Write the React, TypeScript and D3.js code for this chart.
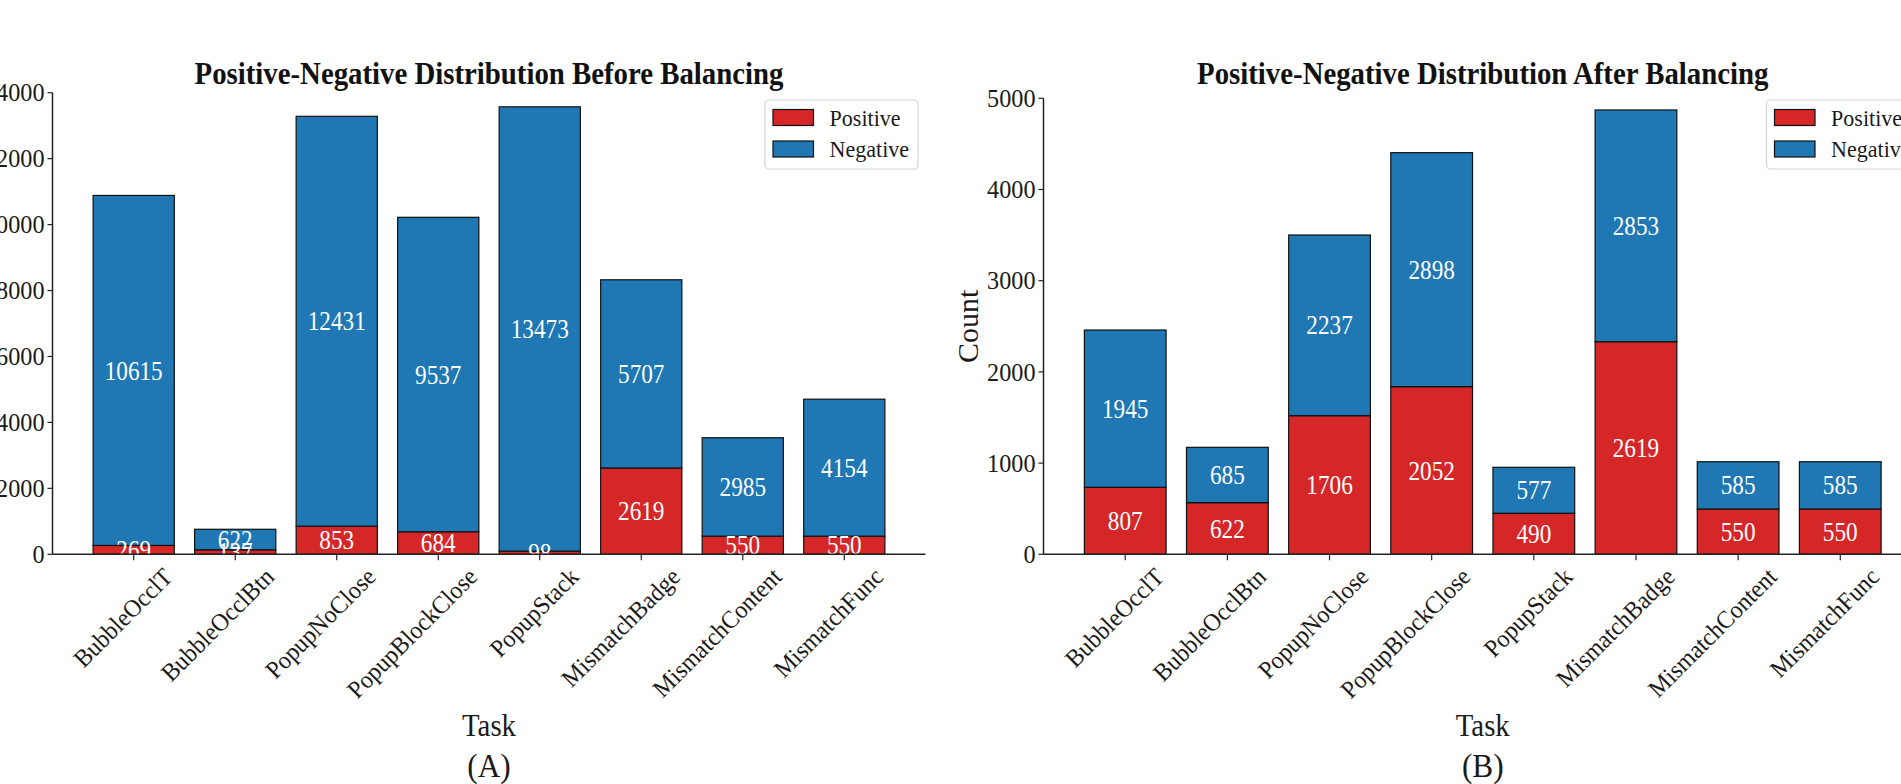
import React from 'react';
import * as d3 from 'd3';

const tasks = [
  'BubbleOcclT',
  'BubbleOcclBtn',
  'PopupNoClose',
  'PopupBlockClose',
  'PopupStack',
  'MismatchBadge',
  'MismatchContent',
  'MismatchFunc',
];

// (A) before balancing
const beforePositive = [269, 137, 853, 684, 98, 2619, 550, 550];
const beforeNegative = [10615, 622, 12431, 9537, 13473, 5707, 2985, 4154];
const beforeTicks = [0, 2000, 4000, 6000, 8000, 10000, 12000, 14000];

// (B) after balancing: bar heights as drawn in the picture, and the printed labels
const afterPositive = [735, 566, 1520, 1838, 450, 2331, 497, 497];
const afterNegative = [1724, 607, 1981, 2566, 504, 2541, 518, 518];
const afterPositiveLabels = [807, 622, 1706, 2052, 490, 2619, 550, 550];
const afterNegativeLabels = [1945, 685, 2237, 2898, 577, 2853, 585, 585];
const afterTicks = [0, 1000, 2000, 3000, 4000, 5000];

const seriesNames = ['Positive', 'Negative'];

const RED = '#d62728';
const BLUE = '#1f77b4';
const FONT = "'Liberation Serif', 'Times New Roman', Times, serif";
const INK = '#1a1a1a';

type TxtProps = {
  x: number;
  y: number;
  size: number;
  sx?: number;
  anchor?: string;
  rotate?: number;
  weight?: string;
  fill?: string;
  baseline?: string;
  dy?: string;
  children: React.ReactNode;
};

function Txt({ x, y, size, sx = 1, anchor = 'middle', rotate = 0, weight = 'normal', fill = INK, baseline, dy, children }: TxtProps) {
  return (
    <text
      transform={`translate(${x},${y}) rotate(${rotate}) scale(${sx},1)`}
      fontFamily={FONT}
      fontSize={size}
      fontWeight={weight}
      fill={fill}
      textAnchor={anchor}
      dominantBaseline={baseline}
      dy={dy}
    >
      {children}
    </text>
  );
}

type PanelProps = {
  x0: number;
  x1: number;
  yTop: number;
  yBottom: number;
  ymax: number;
  ticks: number[];
  pos: number[];
  neg: number[];
  posLabels: number[];
  negLabels: number[];
  title: string;
  letter: string;
  legendX: number;
};

function Panel({ x0, x1, yTop, yBottom, ymax, ticks, pos, neg, posLabels, negLabels, title, letter, legendX }: PanelProps) {
  const x = d3.scaleBand<string>().domain(tasks).range([x0, x1]).paddingInner(0.2).paddingOuter(0.4);
  const y = d3.scaleLinear().domain([0, ymax]).range([yBottom, yTop]);
  const bw = x.bandwidth();
  const cx = (x0 + x1) / 2;
  const legendY = 100;

  return (
    <g>
      <Txt x={cx} y={84} size={32} sx={0.9} weight="bold" fill="#111">
        {title}
      </Txt>

      {/* bars */}
      {tasks.map((t, i) => {
        const bx = x(t) as number;
        const p = pos[i];
        const n = neg[i];
        return (
          <g key={t}>
            <rect x={bx} y={y(p)} width={bw} height={y(0) - y(p)} fill={RED} stroke="#111" strokeWidth={1.2} />
            <rect x={bx} y={y(p + n)} width={bw} height={y(p) - y(p + n)} fill={BLUE} stroke="#111" strokeWidth={1.2} />
          </g>
        );
      })}

      {/* labels */}
      {tasks.map((t, i) => {
        const c = (x(t) as number) + bw / 2;
        const p = pos[i];
        const n = neg[i];
        return (
          <g key={'l' + t}>
            <Txt x={c} y={(y(0) + y(p)) / 2} size={27} sx={0.86} fill="#ffffff" baseline="central">
              {posLabels[i]}
            </Txt>
            <Txt x={c} y={(y(p) + y(p + n)) / 2} size={27} sx={0.86} fill="#ffffff" baseline="central">
              {negLabels[i]}
            </Txt>
          </g>
        );
      })}

      {/* axes */}
      <line x1={x0} x2={x0} y1={yBottom} y2={yTop} stroke="#222" strokeWidth={1.5} />
      <line x1={x0} x2={x1} y1={yBottom} y2={yBottom} stroke="#222" strokeWidth={1.5} />
      {ticks.map((v) => (
        <g key={'yt' + v}>
          <line x1={x0 - 5} x2={x0} y1={y(v)} y2={y(v)} stroke="#222" strokeWidth={1.2} />
          <Txt x={x0 - 8} y={y(v)} size={25.5} sx={0.95} anchor="end" baseline="central">
            {v}
          </Txt>
        </g>
      ))}
      {tasks.map((t) => {
        const c = (x(t) as number) + bw / 2;
        return (
          <g key={'xt' + t}>
            <line x1={c} x2={c} y1={yBottom} y2={yBottom + 6} stroke="#222" strokeWidth={1.2} />
            <Txt x={c + 28} y={566} size={25} sx={0.95} anchor="end" rotate={-45} dy="0.7em">
              {t}
            </Txt>
          </g>
        );
      })}

      <Txt x={x0 - 76} y={(yTop + yBottom) / 2} size={30} rotate={-90} baseline="central">
        Count
      </Txt>
      <Txt x={cx} y={736} size={32} sx={0.9}>
        Task
      </Txt>
      <Txt x={cx} y={777} size={34} sx={0.92}>
        {letter}
      </Txt>

      {/* legend */}
      <g>
        <rect x={legendX} y={legendY} width={153} height={69} rx={4} fill="#ffffff" fillOpacity={0.85} stroke="#d4d4d4" strokeWidth={1.2} />
        {seriesNames.map((s, k) => (
          <g key={s}>
            <rect x={legendX + 8} y={legendY + 9.5 + k * 31.5} width={40.5} height={16} fill={k === 0 ? RED : BLUE} stroke="#111" strokeWidth={1.2} />
            <Txt x={legendX + 64.5} y={legendY + 25.7 + k * 31.5} size={24} sx={0.92} anchor="start">
              {s}
            </Txt>
          </g>
        ))}
      </g>
    </g>
  );
}

export default function App() {
  return (
    <div style={{ position: 'absolute', left: 0, top: 0 }}>
      <svg width={1901} height={784} viewBox="0 0 1901 784" style={{ display: 'block', background: '#ffffff' }}>
        <Panel
          x0={52.5}
          x1={925.5}
          yTop={92.7}
          yBottom={554.3}
          ymax={14000}
          ticks={beforeTicks}
          pos={beforePositive}
          neg={beforeNegative}
          posLabels={beforePositive}
          negLabels={beforeNegative}
          title="Positive-Negative Distribution Before Balancing"
          letter="(A)"
          legendX={765}
        />
        <Panel
          x0={1043.5}
          x1={1922}
          yTop={98.3}
          yBottom={554.3}
          ymax={5000}
          ticks={afterTicks}
          pos={afterPositive}
          neg={afterNegative}
          posLabels={afterPositiveLabels}
          negLabels={afterNegativeLabels}
          title="Positive-Negative Distribution After Balancing"
          letter="(B)"
          legendX={1766.5}
        />
      </svg>
    </div>
  );
}
